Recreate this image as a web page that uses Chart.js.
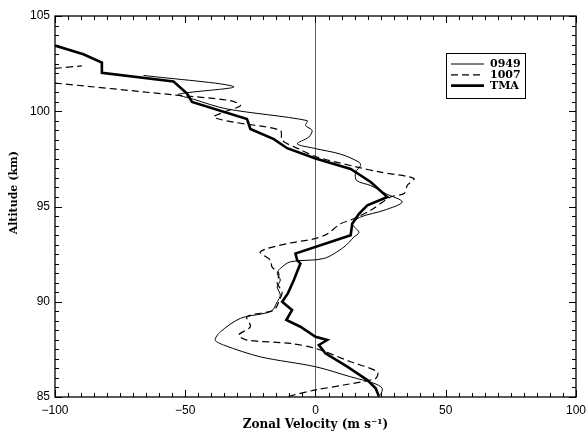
<!DOCTYPE html>
<html>
<head>
<meta charset="utf-8">
<script src="https://cdn.jsdelivr.net/npm/chart.js@4.4.1/dist/chart.umd.min.js"></script>
<style>
body { margin: 0; background: #fff; }
</style>
</head>
<body>
<canvas id="profile" width="587" height="436"></canvas>
<script>
// series values (altitude in km, zonal velocity in m/s)
let alt_0949 = [101.88,101.29,100.89,100.63,100.12,99.51,99.25,98.99,98.64,98.29,98.06,97.75,97.33,97.15,96.80,96.36,96.10,95.68,95.24,94.80,94.45,94.09,93.65,93.39,92.87,92.27,92.10,91.75,91.49,91.14,90.78,90.35,90.00,89.50,89.13,88.42,87.99,87.73,87.11,86.59,86.06,85.72,85.46,85.10];
let vel_0949 = [-66,-31.4,-52.6,-46.8,-34,-3.2,-3.8,-1.3,-2.6,-7,-0.7,9.6,16.7,17.3,15.4,15.8,21.2,26.9,33.3,26.3,17.3,14.1,16.7,14.7,10.9,3.2,-9.6,-13.5,-14.7,-13.5,-14.7,-13.5,-14.7,-17,-28.8,-36.5,-38.5,-35.3,-21.2,0,13.5,22.4,25.6,25];

let alt_1007 = [102.25,102.38,null,101.48,100.86,100.56,100.30,99.95,99.69,99.43,98.99,98.47,98.00,97.60,97.07,96.80,96.47,96.12,95.68,95.50,94.80,94.36,94.09,93.56,93.30,93.05,92.62,92.18,91.83,91.49,90.96,90.52,90.00,89.56,89.21,88.69,88.25,87.99,87.81,87.55,86.85,86.33,85.98,85.63,85.37,85.02];
let vel_1007 = [-100,-89.7,null,-100,-54.5,-32.7,-28.8,-35.3,-39.1,-31.4,-13.5,-12.8,-6,0.5,16,25,37.8,35.3,34,28.8,21.2,14.7,9.6,4.5,-0.7,-10.9,-21.2,-17.3,-16.7,-14.1,-14.7,-12.8,-14.1,-16,-26.3,-25,-29.5,-26.3,-9.6,0,13.5,23.7,23.1,10.9,0,-10.9];

let alt_tma = [103.45,102.99,102.55,102.02,101.56,100.93,100.49,99.59,99.07,98.54,98.06,97.52,96.97,96.29,95.50,95.06,94.62,94.09,93.49,92.53,92.18,92.01,91.14,90.44,90.00,89.56,89.04,88.69,88.16,87.99,87.73,87.29,86.59,85.89,85.46,85.02];
let vel_tma = [-100,-89.1,-82.0,-82.0,-54.5,-49.3,-47.4,-26.3,-25.0,-16.0,-10.9,0,13.5,21.2,27.6,19.9,16.7,14.1,13.5,-7.7,-7.0,-5.8,-8.3,-10.6,-12.8,-9.0,-11.2,-5.8,0,4.5,1.3,3.8,12.2,19.9,23.1,24.4];

let series_labels = ['0949', '1007', 'TMA'];

function toPoints(vel, alt){
    let pts = [];
    for(let i=0;i<alt.length;i++){
        pts.push({x: vel[i], y: alt[i]});
    }
    return pts;
}

// ticks inside the frame, on all four sides, plus the frame itself
const frameTicks = {
    id: 'frameTicks',
    afterDatasetsDraw(chart){
        const ctx = chart.ctx;
        const a = chart.chartArea;
        const xs = chart.scales.x, ys = chart.scales.y;
        ctx.save();
        ctx.strokeStyle = '#000';
        ctx.lineWidth = 1;
        ctx.beginPath();
        for(let v=-100; v<=100; v+=5){
            let px = Math.round(xs.getPixelForValue(v)) + 0.5;
            let len = (v % 50 === 0) ? 7 : 4;
            ctx.moveTo(px, a.bottom); ctx.lineTo(px, a.bottom - len);
            ctx.moveTo(px, a.top); ctx.lineTo(px, a.top + len);
        }
        for(let v=85; v<=105; v+=0.5){
            let py = Math.round(ys.getPixelForValue(v)) + 0.5;
            let len = (v % 5 === 0) ? 7 : 4;
            ctx.moveTo(a.left, py); ctx.lineTo(a.left + len, py);
            ctx.moveTo(a.right, py); ctx.lineTo(a.right - len, py);
        }
        ctx.stroke();
        ctx.lineWidth = 1.3;
        ctx.strokeRect(a.left, a.top, a.right - a.left, a.bottom - a.top);
        ctx.restore();
    }
};

// boxed legend in the upper right of the plot
const boxLegend = {
    id: 'boxLegend',
    afterDraw(chart){
        const ctx = chart.ctx;
        ctx.save();
        ctx.fillStyle = '#fff';
        ctx.fillRect(446, 53, 79, 45);
        ctx.strokeStyle = '#000';
        ctx.lineWidth = 1;
        ctx.strokeRect(446.5, 53.5, 79, 45);
        ctx.font = 'bold 11px "DejaVu Serif"';
        ctx.textBaseline = 'middle';
        ctx.fillStyle = '#000';
        chart.data.datasets.forEach((ds, i) => {
            let y = 64 + i * 10.8;
            ctx.beginPath();
            ctx.lineWidth = ds.borderWidth;
            ctx.setLineDash(ds.borderDash || []);
            ctx.moveTo(451, y); ctx.lineTo(484, y);
            ctx.stroke();
            ctx.setLineDash([]);
            ctx.fillText(ds.label, 490, y + 0.5);
        });
        ctx.restore();
    }
};

new Chart(document.getElementById('profile'), {
    type: 'line',
    data: {
        datasets: [{
            label: series_labels[0],
            data: toPoints(vel_0949, alt_0949),
            borderColor: '#000',
            borderWidth: 1,
            tension: 0.3
        }, {
            label: series_labels[1],
            data: toPoints(vel_1007, alt_1007),
            borderColor: '#000',
            borderWidth: 1.2,
            borderDash: [7, 4],
            tension: 0.3
        }, {
            label: series_labels[2],
            data: toPoints(vel_tma, alt_tma),
            borderColor: '#000',
            borderWidth: 2.6,
            tension: 0
        }]
    },
    options: {
        responsive: false,
        animation: false,
        parsing: false,
        spanGaps: false,
        elements: { point: { radius: 0 } },
        layout: { padding: { top: 16, right: 11, left: 0, bottom: 0 } },
        plugins: {
            legend: { display: false },
            tooltip: { enabled: false }
        },
        scales: {
            x: {
                type: 'linear',
                min: -100,
                max: 100,
                afterFit(scale){ scale.height = 39; },
                ticks: {
                    stepSize: 50,
                    padding: 1,
                    color: '#000',
                    // tall line height pushes the labels down without widening the side padding
                    font: { family: 'Liberation Sans', size: 12, lineHeight: 2.1 },
                    callback: v => (v < 0 ? '\u2212' + Math.abs(v) : '' + v)
                },
                grid: {
                    drawTicks: false,
                    color: c => (c.tick && c.tick.value === 0) ? '#666' : 'rgba(0,0,0,0)',
                    lineWidth: 1
                },
                border: { display: false },
                title: {
                    display: true,
                    text: 'Zonal Velocity (m s\u207B\u00B9)',
                    color: '#000',
                    font: { family: 'DejaVu Serif', size: 12, weight: 'bold' },
                    padding: { top: 0, bottom: 4 }
                }
            },
            y: {
                type: 'linear',
                min: 85,
                max: 105,
                afterFit(scale){ scale.width = 55; },
                ticks: {
                    stepSize: 5,
                    padding: 5,
                    color: '#000',
                    font: { family: 'Liberation Sans', size: 12 }
                },
                grid: { display: false, drawTicks: false },
                border: { display: false },
                title: {
                    display: true,
                    // leading en spaces nudge the label up, as in the original
                    text: '\u2002\u2002\u2002\u2002\u2002Altitude (km)',
                    color: '#000',
                    font: { family: 'DejaVu Serif', size: 11, weight: 'bold' },
                    padding: { top: 8, bottom: 0 }
                }
            }
        }
    },
    plugins: [frameTicks, boxLegend]
});
</script>
</body>
</html>
